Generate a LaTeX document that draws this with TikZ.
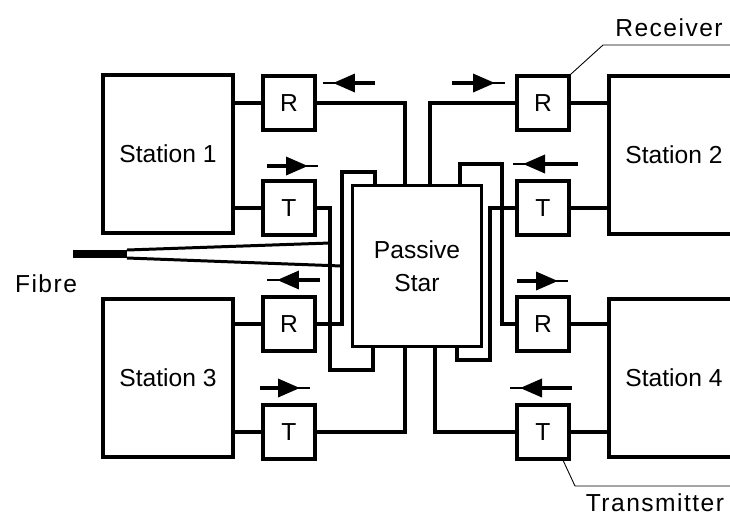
\documentclass[tikz,border=0pt]{standalone}
\usepackage{fontspec}
\setmainfont{Liberation Sans}
\newfontfamily\labelfont[LetterSpace=6]{Liberation Sans}
\usetikzlibrary{arrows.meta}

\tikzset{
  wire/.style={line width=2pt},
  fibre/.style={line width=1.7pt},
  lead/.style={line width=0.5pt},
  station/.style={draw,line width=2pt,minimum width=2.6cm,minimum height=3.16cm,inner sep=0pt,font=\fontsize{14}{17}\selectfont},
  unit/.style={draw,line width=2pt,minimum width=1.04cm,minimum height=1.08cm,inner sep=0pt,font=\fontsize{14}{17}\selectfont},
  flow/.style={line width=1.2pt,postaction={draw,line width=2pt,-{Triangle[length=0.44cm,width=0.36cm]},shorten >=0.2cm}},
  tag/.style={font=\labelfont\fontsize{14}{17}\selectfont}
}

\begin{document}
\begin{tikzpicture}[x=0.02cm,y=-0.02cm]
  \clip (0,0) rectangle (730,518);
  \node[station] (S1) at (168,154) {Station 1}; \node[station] (S3) at (168,378) {Station 3};
  \node[station] (S2) at (674,155) {Station 2}; \node[station] (S4) at (674,378) {Station 4};
  \node[draw,line width=2pt,minimum width=2.58cm,minimum height=3.22cm,align=center,font=\fontsize{14}{18.8}\selectfont] (Star) at (417,266) {Passive\\Star};
  \node[unit] (R1) at (289,103) {R}; \node[unit] (T1) at (289,208) {T};
  \node[unit] (R3) at (289,324) {R}; \node[unit] (T3) at (289,432) {T};
  \node[unit] (R2) at (543,103) {R}; \node[unit] (T2) at (543,208) {T};
  \node[unit] (R4) at (543,324) {R}; \node[unit] (T4) at (543,432) {T};
  \draw[wire] (S1.east |- R1) -- (R1); \draw[wire] (S1.east |- T1) -- (T1);
  \draw[wire] (S3.east |- R3) -- (R3); \draw[wire] (S3.east |- T3) -- (T3);
  \draw[wire] (S2.west |- R2) -- (R2); \draw[wire] (S2.west |- T2) -- (T2);
  \draw[wire] (S4.west |- R4) -- (R4); \draw[wire] (S4.west |- T4) -- (T4);
  \draw[wire] (R1.east) -| (405,0 |- Star.north); \draw[wire] (430,0 |- Star.north) |- (R2.west);
  \draw[wire] (375,0 |- Star.north) |- (342,172) |- (R3.east);
  \draw[wire] (460,0 |- Star.north) |- (502,164) |- (R4.west);
  \draw[wire] (T1.east) -| (330,370) -| (373,0 |- Star.south);
  \draw[wire] (T3.east) -| (405,0 |- Star.south); \draw[wire] (T4.west) -| (435,0 |- Star.south);
  \draw[wire] (T2.west) -| (490,360) -| (457,0 |- Star.south);
  \coordinate (F) at (127,254);
  \draw[line width=0.16cm] (73,254) -- (F);
  \draw[fibre] (127,250) -- (330,243); \draw[fibre] (127,258) -- (342,266);
  \draw[flow] (375,83) -- (323,83); \draw[flow] (267,166) -- (318,166);
  \draw[flow] (320,280) -- (267,280); \draw[flow] (260,388) -- (310,388);
  \draw[flow] (452,83) -- (505,83); \draw[flow] (578,164) -- (513,164);
  \draw[flow] (517,281) -- (568,281); \draw[flow] (572,388) -- (510,388);
  \node[tag] (fib) at (46,284) {Fibre};
  \node[tag] (rx) at (669,28) {Receiver}; \node[tag] (tx) at (655,503) {Transmitter};
  \draw[lead] (R2.north east) -- (603,45) -- (735,45);
  \draw[lead] ([xshift=-0.15cm]T4.south east) -- (575,486) -- (735,486);
\end{tikzpicture}
\end{document}
